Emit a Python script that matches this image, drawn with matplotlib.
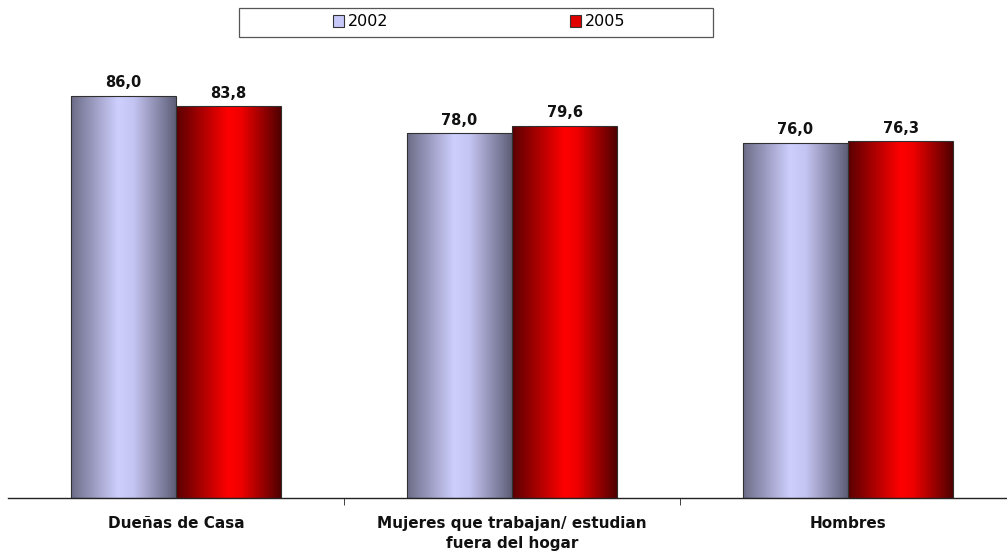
import numpy as np
import matplotlib
matplotlib.use("Agg")
import matplotlib.pyplot as plt
from matplotlib.colors import LinearSegmentedColormap
from matplotlib.patches import Patch, Rectangle

categories = ["Dueñas de Casa", "Mujeres que trabajan/ estudian\nfuera del hogar", "Hombres"]
series_names = ["2002", "2005"]
values_2002 = [86.0, 78.0, 76.0]
values_2005 = [83.8, 79.6, 76.3]

plt.rcParams["font.family"] = ["DejaVu Sans"]

fig = plt.figure(figsize=(10.07, 5.53), dpi=100)
ax = fig.add_axes([8 / 1007, 55 / 553, 1008 / 1007, 467.4 / 553])

x = np.arange(len(categories))
width = 0.3125

cmap_2002 = LinearSegmentedColormap.from_list(
    "lav", [(0.0, "#6c6c88"), (0.45, "#cfcfff"), (0.6, "#c4c4f2"), (1.0, "#5e5e78")])
cmap_2005 = LinearSegmentedColormap.from_list(
    "red", [(0.0, "#5a0000"), (0.5, "#ff0000"), (0.62, "#f00000"), (1.0, "#500000")])

bars_a = ax.bar(x - width / 2, values_2002, width, color="none", edgecolor="#303030", linewidth=0.8, zorder=3)
bars_b = ax.bar(x + width / 2, values_2005, width, color="none", edgecolor="#303030", linewidth=0.8, zorder=3)

grad = np.linspace(0, 1, 256).reshape(1, -1)
for bars, cmap in ((bars_a, cmap_2002), (bars_b, cmap_2005)):
    for b in bars:
        x0, w, h = b.get_x(), b.get_width(), b.get_height()
        im = ax.imshow(grad, cmap=cmap, aspect="auto", extent=(x0, x0 + w, 0, h),
                       interpolation="bicubic", zorder=2)
        im.set_clip_path(b)

for bars, vals in ((bars_a, values_2002), (bars_b, values_2005)):
    for b, v in zip(bars, vals):
        ax.text(b.get_x() + b.get_width() / 2, v + 1.2, f"{v:.1f}".replace(".", ","),
                ha="center", va="bottom", fontsize=10.5, fontweight="bold", color="#111111")

ax.set_xlim(-0.5, len(categories) - 0.5)
ax.set_ylim(0, 100)
for s in ("top", "right", "left"):
    ax.spines[s].set_visible(False)
ax.spines["bottom"].set_color("#222222")
ax.spines["bottom"].set_linewidth(1.0)
ax.set_yticks([])
ax.set_xticks(x)
ax.set_xticklabels(categories, fontsize=11, fontweight="bold", color="#111111",
                   linespacing=1.45)
ax.tick_params(axis="x", length=0, pad=13)
ax.set_xticks(x[:-1] + 0.5, minor=True)
ax.tick_params(axis="x", which="minor", length=5, color="#222222")

handles = [Patch(facecolor="#c8c8f8", edgecolor="#333333", linewidth=0.8),
           Patch(facecolor="#e00000", edgecolor="#333333", linewidth=0.8)]
fig.legend(handles, series_names, loc="center", bbox_to_anchor=(479 / 1007, 1 - 22 / 553),
           ncol=2, frameon=False, fontsize=11.5, handlelength=0.7, handleheight=0.7,
           handletextpad=0.2, columnspacing=11.4)
fig.patches.append(Rectangle((239 / 1007, 1 - 37 / 553), 474 / 1007, 29 / 553,
                             transform=fig.transFigure, fill=False,
                             edgecolor="#555555", linewidth=0.9))

fig.savefig("out.png", dpi=100, facecolor="white")
